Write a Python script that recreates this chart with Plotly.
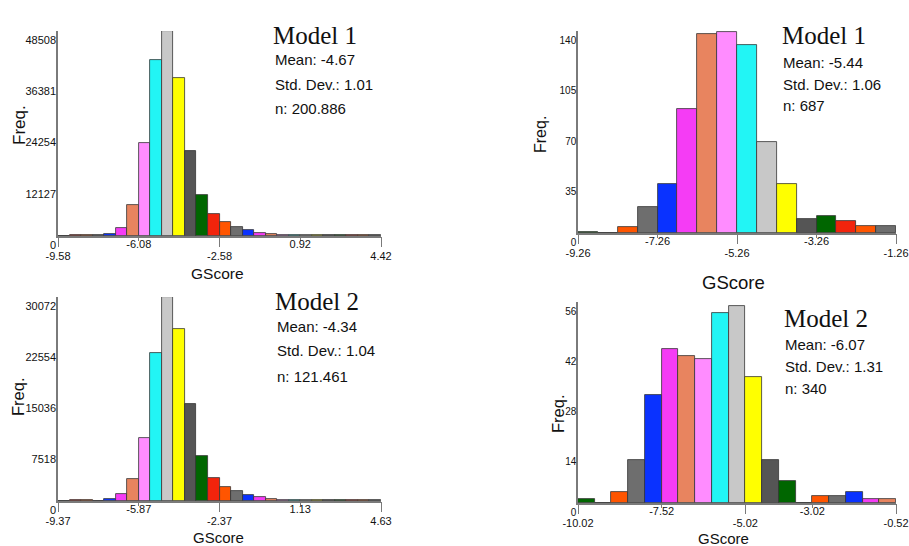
import numpy as np
import plotly.graph_objects as go

# ---------------- data ----------------
BIN_WIDTH = 0.5
COLOR_CYCLE = ["#006600", "#f2240c", "#ff5500", "#6e6e6e", "#0a32ff", "#f53cf5",
               "#e8845f", "#ff8cff", "#22f5f5", "#c8c8c8", "#ffff00", "#555555"]

# Panel A: Model 1 (left)
a_counts = [0, 240, 240, 160, 400, 1900, 7300, 21900, 41600, 48508, 37300, 20200,
            9600, 5150, 3300, 2200, 1350, 800, 480, 320, 300, 240, 200, 200, 200, 200, 200, 200]
a_xmin, a_xmax = -9.58, 4.42
a_upper_ticks = [-6.08, 0.92]
a_lower_ticks = [-9.58, -2.58, 4.42]
a_yticks = [0, 12127, 24254, 36381, 48508]
a_title = "Model 1"
a_stats = ["Mean: -4.67", "Std. Dev.: 1.01", "n: 200.886"]

# Panel B: Model 1 (right)
b_counts = [1, 0, 4, 18, 34, 86, 138, 139, 130, 63, 34, 10, 12, 8, 5, 5]
b_xmin, b_xmax = -9.26, -1.26
b_upper_ticks = [-7.26, -3.26]
b_lower_ticks = [-9.26, -5.26, -1.26]
b_yticks = [0, 35, 70, 105, 140]
b_title = "Model 1"
b_stats = ["Mean: -5.44", "Std. Dev.: 1.06", "n: 687"]

# Panel C: Model 2 (left)
c_counts = [0, 150, 100, 50, 345, 1085, 3250, 9270, 21840, 30072, 25390, 14350,
            6660, 3350, 2120, 1530, 940, 540, 345, 150, 150, 100, 100, 100, 100, 100, 100, 100]
c_xmin, c_xmax = -9.37, 4.63
c_upper_ticks = [-5.87, 1.13]
c_lower_ticks = [-9.37, -2.37, 4.63]
c_yticks = [0, 7518, 15036, 22554, 30072]
c_title = "Model 2"
c_stats = ["Mean: -4.34", "Std. Dev.: 1.04", "n: 121.461"]

# Panel D: Model 2 (right)
d_counts = [1, 0, 3, 12, 30, 43, 41, 40, 53, 55, 35, 12, 6, 0, 2, 2, 3, 1, 1]
d_xmin, d_xmax = -10.02, -0.52
d_upper_ticks = [-7.52, -3.02]
d_lower_ticks = [-10.02, -5.02, -0.52]
d_yticks = [0, 14, 28, 42, 56]
d_title = "Model 2"
d_stats = ["Mean: -6.07", "Std. Dev.: 1.31", "n: 340"]

# ---------------- layout geometry (pixels) ----------------
W, H = 909, 546
panels = [
    dict(counts=a_counts, xmin=a_xmin, xmax=a_xmax, up=a_upper_ticks, lo=a_lower_ticks,
         yt=a_yticks, title=a_title, stats=a_stats,
         px=(58, 381), py=(31, 236), ytf=11,
         tpos=(271, 36), spos=(273, [59, 84, 109]),
         freq=(20, 125, 17), gs=(217, 273, 15.5)),
    dict(counts=b_counts, xmin=b_xmin, xmax=b_xmax, up=b_upper_ticks, lo=b_lower_ticks,
         yt=b_yticks, title=b_title, stats=b_stats,
         px=(578, 896), py=(31, 233), ytf=10,
         tpos=(780, 36), spos=(781, [62, 84, 106]),
         freq=(540, 135, 16), gs=(733, 282, 18.5)),
    dict(counts=c_counts, xmin=c_xmin, xmax=c_xmax, up=c_upper_ticks, lo=c_lower_ticks,
         yt=c_yticks, title=c_title, stats=c_stats,
         px=(58, 381), py=(297, 501), ytf=11,
         tpos=(273, 301), spos=(275, [326, 350, 376]),
         freq=(18, 397, 16.5), gs=(218, 537, 15)),
    dict(counts=d_counts, xmin=d_xmin, xmax=d_xmax, up=d_upper_ticks, lo=d_lower_ticks,
         yt=d_yticks, title=d_title, stats=d_stats,
         px=(578, 896), py=(302, 503), ytf=10,
         tpos=(782, 318), spos=(783, [344, 366, 388]),
         freq=(558, 414, 16.5), gs=(723, 538, 15)),
]

fig = go.Figure()
layout = dict(width=W, height=H, margin=dict(l=0, r=0, t=0, b=0, autoexpand=False),
              paper_bgcolor="white", plot_bgcolor="white", showlegend=False,
              bargap=0, font=dict(family="Liberation Sans, Arial, sans-serif", color="#111"))
annotations = []

AXCOL = "#7a7a7a"
for i, p in enumerate(panels):
    k = i + 1
    xa = "x" if k == 1 else f"x{k}"
    ya = "y" if k == 1 else f"y{k}"
    xo = f"x{k + 4}"
    n = len(p["counts"])
    centers = p["xmin"] + BIN_WIDTH * (np.arange(n) + 0.5)
    colors = [COLOR_CYCLE[j % len(COLOR_CYCLE)] for j in range(n)]
    fig.add_trace(go.Bar(x=centers, y=p["counts"], width=BIN_WIDTH, xaxis=xa, yaxis=ya,
                         marker=dict(color=colors, line=dict(color="#333333", width=0.8)),
                         hoverinfo="x+y"))
    # empty trace to activate the overlay axis carrying the lower tick row
    fig.add_trace(go.Scatter(x=[], y=[], xaxis=xo, yaxis=ya, showlegend=False))

    xd = [p["px"][0] / W, p["px"][1] / W]
    yd = [1 - p["py"][1] / H, 1 - p["py"][0] / H]
    xr = [p["xmin"], p["xmax"]]
    tickfont = dict(size=11, color="#111")
    layout[f"xaxis{'' if k == 1 else k}"] = dict(
        domain=xd, anchor=ya, range=xr, showgrid=False, zeroline=False, automargin=False,
        showline=True, linecolor=AXCOL, linewidth=1.5,
        ticks="outside", ticklen=3, tickwidth=1.2, tickcolor=AXCOL,
        tickmode="array", tickvals=p["up"], ticktext=[f"{v:.2f}" for v in p["up"]],
        tickfont=tickfont, ticklabelstandoff=-6)
    layout[f"xaxis{k + 4}"] = dict(
        overlaying=xa, anchor=ya, side="bottom", range=xr, showgrid=False, zeroline=False,
        automargin=False,
        showline=False, ticks="outside", ticklen=10, tickwidth=1.2, tickcolor=AXCOL,
        tickmode="array", tickvals=p["lo"], ticktext=[f"{v:.2f}" for v in p["lo"]],
        tickfont=tickfont, ticklabelstandoff=0)
    layout[f"yaxis{'' if k == 1 else k}"] = dict(
        domain=yd, anchor=xa, range=[0, p["yt"][-1]], showgrid=False, zeroline=False,
        automargin=False,
        showline=True, linecolor=AXCOL, linewidth=1.5, ticks="",
        tickmode="array", tickvals=p["yt"], ticktext=[str(v) for v in p["yt"]],
        tickfont=dict(size=p["ytf"], color="#111"), ticklabelshift=9, ticklabelstandoff=-2)

    # titles and stats
    annotations.append(dict(xref="paper", yref="paper", x=p["tpos"][0] / W, y=1 - p["tpos"][1] / H,
                            xanchor="left", yanchor="middle", showarrow=False, text=p["title"],
                            font=dict(family="Liberation Serif, Times New Roman, serif", size=25, color="#111")))
    for s, yy in zip(p["stats"], p["spos"][1]):
        annotations.append(dict(xref="paper", yref="paper", x=p["spos"][0] / W, y=1 - yy / H,
                                xanchor="left", yanchor="middle", showarrow=False, text=s,
                                font=dict(size=15, color="#111")))
    fx, fy, fs = p["freq"]
    annotations.append(dict(xref="paper", yref="paper", x=fx / W, y=1 - fy / H, textangle=-90,
                            xanchor="center", yanchor="middle", showarrow=False, text="Freq.",
                            font=dict(size=fs, color="#111")))
    gx, gy, gsz = p["gs"]
    annotations.append(dict(xref="paper", yref="paper", x=gx / W, y=1 - gy / H,
                            xanchor="center", yanchor="middle", showarrow=False, text="GScore",
                            font=dict(size=gsz, color="#111")))

layout["annotations"] = annotations
fig.update_layout(**layout)
fig.write_html("out.html", config={"displayModeBar": False},
               post_script="document.body.style.margin='0';document.body.style.overflow='hidden';")
